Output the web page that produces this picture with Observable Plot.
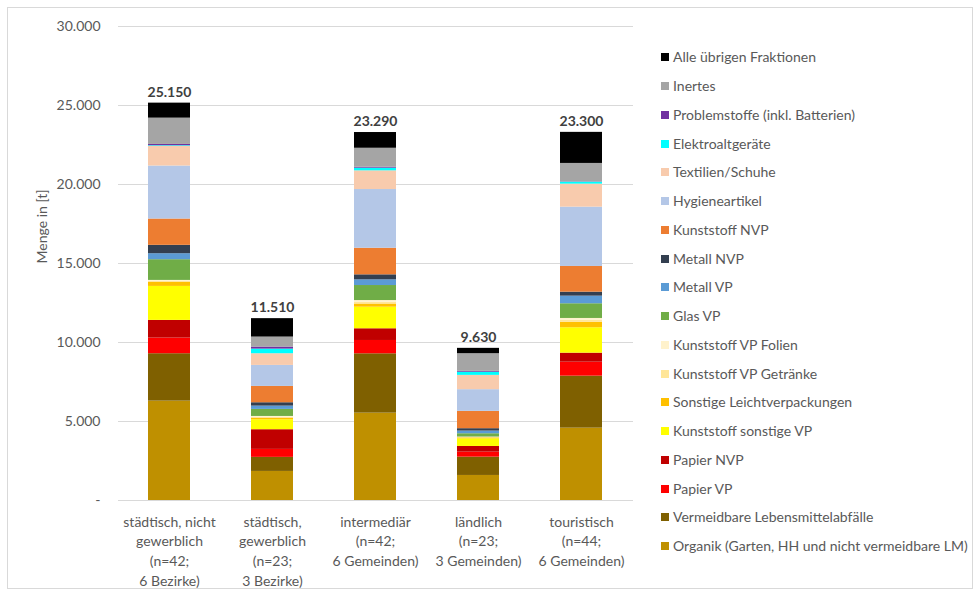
<!DOCTYPE html>
<html>
<head>
<meta charset="utf-8">
<script src="https://cdn.jsdelivr.net/npm/d3@7"></script>
<script src="https://cdn.jsdelivr.net/npm/@observablehq/plot@0.6"></script>
<style>
  html, body { margin: 0; padding: 0; background: #fff; }
  #wrap { position: relative; width: 976px; height: 592px; overflow: hidden; font-family: Lato, "Liberation Sans", sans-serif; }
  #frame { position: absolute; left: 7px; top: 7px; width: 966px; height: 582px; border: 1px solid #d9d9d9; box-sizing: border-box; pointer-events: none; }
  #chart { position: absolute; left: 0; top: 0; }
  #legend { position: absolute; left: 661px; top: 0; }
  .item { position: absolute; left: 0; white-space: nowrap; font-size: 14px; color: #595959; line-height: 16px; height: 16px; }
  .sw { position: absolute; left: 0; top: 4px; width: 8px; height: 8px; }
  .lab { position: absolute; left: 12px; top: 0; }
</style>
</head>
<body>
<div id="wrap">
  <div id="frame"></div>
  <div id="chart"></div>
  <div id="legend"></div>
</div>
<script>
// Categories (x axis)
const categories = ["snG", "sG", "int", "land", "tour"];
const categoryLabels = [
  "städtisch, nicht\ngewerblich\n(n=42;\n6 Bezirke)",
  "städtisch,\ngewerblich\n(n=23;\n3 Bezirke)",
  "intermediär\n(n=42;\n6 Gemeinden)",
  "ländlich\n(n=23;\n3 Gemeinden)",
  "touristisch\n(n=44;\n6 Gemeinden)"
];
const totals = [25150, 11510, 23290, 9630, 23300];
const yTicks = [0, 5000, 10000, 15000, 20000, 25000, 30000];

// Fractions, bottom of stack first
const fractions = [
  "Organik (Garten, HH und nicht vermeidbare LM)",
  "Vermeidbare Lebensmittelabfälle",
  "Papier VP",
  "Papier NVP",
  "Kunststoff sonstige VP",
  "Sonstige Leichtverpackungen",
  "Kunststoff VP Getränke",
  "Kunststoff VP Folien",
  "Glas VP",
  "Metall VP",
  "Metall NVP",
  "Kunststoff NVP",
  "Hygieneartikel",
  "Textilien/Schuhe",
  "Elektroaltgeräte",
  "Problemstoffe (inkl. Batterien)",
  "Inertes",
  "Alle übrigen Fraktionen"
];
const colors = [
  "#bf9000", "#7f6000", "#ff0000", "#c00000", "#ffff00", "#ffc000", "#ffe699", "#fff2cc",
  "#70ad47", "#5b9bd5", "#333f50", "#ed7d31", "#b4c7e7", "#f8cbad", "#00ffff", "#7030a0",
  "#a5a5a5", "#000000"
];

// Series values per fraction (one value per category)
const organik       = [6290, 1840, 5530, 1585, 4580];
const vermeidbarLM  = [3000,  890, 3755, 1160, 3290];
const papierVP      = [ 990,  505,  843,  317,  886];
const papierNVP     = [1120, 1245,  741,  358,  570];
const kstSonstVP    = [2150,  630, 1367,  485, 1607];
const sonstLVP      = [ 270,   80,  200,   60,  339];
const kstGetraenke  = [  60,   70,  120,   30,  130];
const kstFolien     = [  50,   60,  100,   20,  120];
const glasVP        = [1310,  445,  950,  210,  930];
const metallVP      = [ 380,  210,  360,  170,  482];
const metallNVP     = [ 530,  212,  317,  150,  253];
const kstNVP        = [1665, 1033, 1683, 1097, 1626];
const hygiene       = [3355, 1330, 3716, 1373, 3754];
const textilien     = [1245,  740, 1182,  905, 1456];
const elektro       = [  40,  294,  170,  200,  126];
const problem       = [  80,  127,   60,   54,   20];
const inertes       = [1665,  633, 1200, 1118, 1164];
const uebrige       = [ 950, 1166,  996,  338, 1967];

const series = [organik, vermeidbarLM, papierVP, papierNVP, kstSonstVP, sonstLVP, kstGetraenke,
  kstFolien, glasVP, metallVP, metallNVP, kstNVP, hygiene, textilien, elektro, problem, inertes, uebrige];

const data = [];
fractions.forEach((f, fi) => {
  categories.forEach((c, ci) => data.push({cat: c, fraction: f, value: series[fi][ci]}));
});

const de = d3.formatLocale({decimal: ",", thousands: ".", grouping: [3], currency: ["", " €"]});
const fmt = de.format(",");
const labelOf = new Map(categories.map((c, i) => [c, categoryLabels[i]]));

const chart = Plot.plot({
  width: 976,
  height: 592,
  marginLeft: 118,
  marginRight: 343,
  marginTop: 26,
  marginBottom: 92,
  style: {fontFamily: "Lato, 'Liberation Sans', sans-serif", fontSize: "14px", color: "#595959", background: "transparent"},
  x: {domain: categories, paddingInner: 0.59, paddingOuter: 0.295, label: null},
  y: {domain: [0, 30000], label: null},
  color: {domain: fractions, range: colors},
  marks: [
    Plot.gridY(yTicks, {stroke: "#d9d9d9", strokeOpacity: 1}),
    Plot.barY(data, {x: "cat", y: "value", fill: "fraction"}),
    Plot.text(categories, {x: d => d, y: (d, i) => totals[i], text: (d, i) => fmt(totals[i]),
      dy: -11, fontWeight: "bold", fill: "#404040", fontSize: 14}),
    Plot.axisY(yTicks, {tickSize: 0, tickPadding: 18, label: null, fontSize: 14,
      tickFormat: d => d === 0 ? "-" : fmt(d), fill: "#595959"}),
    Plot.axisX({tickSize: 0, tickPadding: 12, label: null, lineHeight: 1.41, fontSize: 14,
      tickFormat: d => labelOf.get(d), fill: "#595959"}),
    Plot.text(["Menge in [t]"], {frameAnchor: "left", dx: -76, rotate: -90, fill: "#595959", fontSize: 14})
  ]
});
document.getElementById("chart").appendChild(chart);

// Legend (top entry = top of stack)
const legend = document.getElementById("legend");
const legendTop = 57.3, legendStep = 28.75;
fractions.slice().reverse().forEach((f, i) => {
  const ci = fractions.indexOf(f);
  const item = document.createElement("div");
  item.className = "item";
  item.style.top = (legendTop + i * legendStep - 8) + "px";
  const sw = document.createElement("div");
  sw.className = "sw";
  sw.style.background = colors[ci];
  const lab = document.createElement("div");
  lab.className = "lab";
  lab.textContent = f;
  item.appendChild(sw);
  item.appendChild(lab);
  legend.appendChild(item);
});
</script>
</body>
</html>
